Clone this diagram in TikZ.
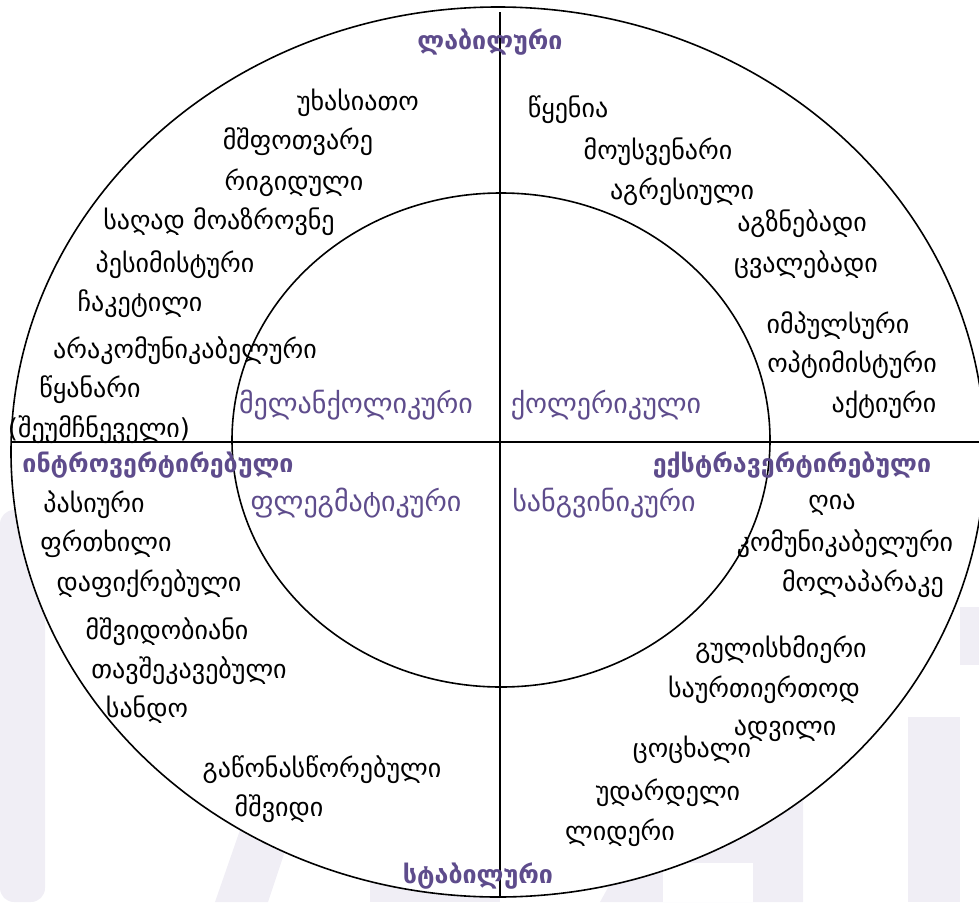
\documentclass[tikz,border=0pt]{standalone}
\usepackage{fontspec}
\newfontfamily\geo{DejaVu Sans}
\definecolor{temper}{RGB}{94,76,140}
\definecolor{haze}{RGB}{240,238,245}
\begin{document}
\begin{tikzpicture}[x=1pt,y=-1pt,
  trait/.style={font=\geo\fontsize{26}{30}\selectfont, text=black, inner sep=0pt},
  kind/.style={font=\geo\fontsize{28}{32}\selectfont, text=temper, inner sep=0pt},
  axislabel/.style={font=\geo\bfseries\fontsize{25}{30}\selectfont, text=temper, inner sep=0pt},
  ring/.style={draw=black, line width=1.6pt},
  axis/.style={draw=black, line width=1.6pt}]
\useasboundingbox (0,0) rectangle (979,902);
% faint background lettering
\fill[haze, rounded corners=14pt] (0,510) -- (45,510) -- (45,902) -- (0,902) -- cycle;
\fill[haze] (215,902) -- (240,830) -- (292,830) -- (268,902) -- cycle;
\fill[haze] (370,880) rectangle (500,902);
\fill[haze] (600,902) -- (640,830) -- (803,780) -- (803,902) -- cycle;
\fill[white] (663,863) rectangle (753,902);
\fill[haze] (908,717) rectangle (960,902);
\fill[haze] (960,607) rectangle (979,665);
% rings and axes
\path[ring, fill=white] (498,452) ellipse [x radius=487pt, y radius=445pt];
\path[ring] (501,440) ellipse [x radius=269pt, y radius=247pt];
\coordinate (top) at (500,12);
\coordinate (bottom) at (500,898);
\coordinate (left) at (12,442);
\coordinate (right) at (979,442);
\draw[axis] (top) -- (bottom);
\draw[axis] (left) -- (right);
% axis labels
\node[axislabel] (lab) at (490,42) {ლაბილური};
\node[axislabel] (stab) at (478,876) {სტაბილური};
\node[axislabel] (intro) at (158,465) {ინტროვერტირებული};
\node[axislabel] (extra) at (792,465) {ექსტრავერტირებული};
% temperaments
\node[kind] (mel) at (356,405) {მელანქოლიკური};
\node[kind] (chol) at (606,405) {ქოლერიკული};
\node[kind] (phleg) at (356,503) {ფლეგმატიკური};
\node[kind] (sang) at (604,503) {სანგვინიკური};
% melancholic traits
\node[trait] (m1) at (358,103) {უხასიათო};
\node[trait] (m2) at (298,142) {მშფოთვარე};
\node[trait] (m3) at (294,183) {რიგიდული};
\node[trait] (m4) at (219,222) {საღად მოაზროვნე};
\node[trait] (m5) at (175,265) {პესიმისტური};
\node[trait] (m6) at (140,304) {ჩაკეტილი};
\node[trait] (m7) at (185,351) {არაკომუნიკაბელური};
\node[trait] (m8) at (90,390) {წყანარი};
\node[trait] (m9) at (99,430) {(შეუმჩნეველი)};
% choleric traits
\node[trait] (c1) at (568,110) {წყენია};
\node[trait] (c2) at (658,152) {მოუსვენარი};
\node[trait] (c3) at (682,192) {აგრესიული};
\node[trait] (c4) at (802,224) {აგზნებადი};
\node[trait] (c5) at (806,265) {ცვალებადი};
\node[trait] (c6) at (838,326) {იმპულსური};
\node[trait] (c7) at (852,365) {ოპტიმისტური};
\node[trait] (c8) at (884,405) {აქტიური};
% phlegmatic traits
\node[trait] (p1) at (94,505) {პასიური};
\node[trait] (p2) at (106,544) {ფრთხილი};
\node[trait] (p3) at (149,584) {დაფიქრებული};
\node[trait] (p4) at (167,632) {მშვიდობიანი};
\node[trait] (p5) at (189,671) {თავშეკავებული};
\node[trait] (p6) at (147,710) {სანდო};
\node[trait] (p7) at (322,770) {გაწონასწორებული};
\node[trait] (p8) at (279,809) {მშვიდი};
% sanguine traits
\node[trait] (s1) at (832,505) {ღია};
\node[trait] (s2) at (845,544) {კომუნიკაბელური};
\node[trait] (s3) at (863,584) {მოლაპარაკე};
\node[trait] (s4) at (781,650) {გულისხმიერი};
\node[trait] (s5) at (764,690) {საურთიერთოდ};
\node[trait] (s6) at (785,731) {ადვილი};
\node[trait] (s7) at (692,750) {ცოცხალი};
\node[trait] (s8) at (668,793) {უდარდელი};
\node[trait] (s9) at (620,833) {ლიდერი};
\end{tikzpicture}
\end{document}
